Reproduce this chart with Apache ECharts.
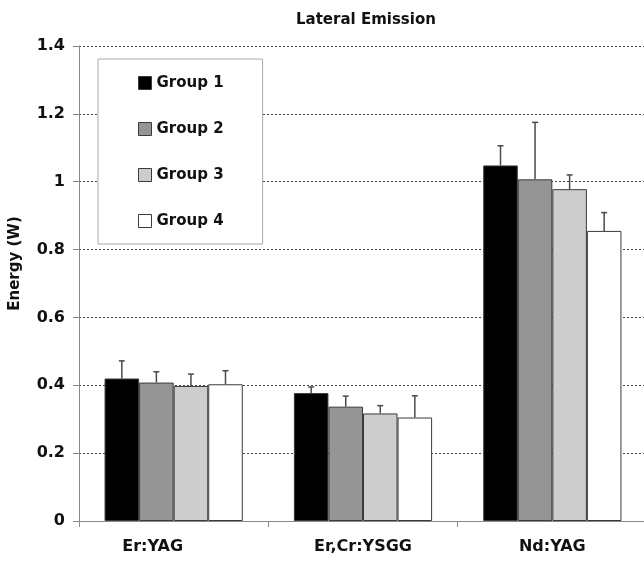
<!DOCTYPE html>
<html>
<head>
<meta charset="utf-8">
<script src="https://cdn.jsdelivr.net/npm/echarts@6/dist/echarts.min.js"></script>
<style>html,body{margin:0;padding:0;background:#fff}#c{width:644px;height:561px}</style>
</head>
<body>
<div id="c"></div>
<script>
const categories = ['Er:YAG', 'Er,Cr:YSGG', 'Nd:YAG'];
const groupNames = ['Group 1', 'Group 2', 'Group 3', 'Group 4'];
const group1 = [0.42, 0.377, 1.048];
const group2 = [0.408, 0.337, 1.007];
const group3 = [0.398, 0.317, 0.978];
const group4 = [0.403, 0.305, 0.855];
const err1 = [0.052, 0.018, 0.058];
const err2 = [0.032, 0.031, 0.168];
const err3 = [0.035, 0.023, 0.042];
const err4 = [0.040, 0.064, 0.054];
const yTicks = [0, 0.2, 0.4, 0.6, 0.8, 1, 1.2, 1.4];

const values = [group1, group2, group3, group4];
const errors = [err1, err2, err3, err4];
const colors = ['#000000', '#959595', '#cdcdcd', '#ffffff'];
const FONT = 'DejaVu Sans';
const GAP = 0.27;

const barSeries = values.map((v, g) => ({
  name: groupNames[g],
  type: 'bar',
  data: v,
  barGap: '0%',
  barCategoryGap: (GAP * 100) + '%',
  itemStyle: { color: colors[g], borderColor: '#3a3a3a', borderWidth: 1 },
  emphasis: { disabled: true },
  z: 2
}));

const errSeries = values.map((v, g) => ({
  name: 'err' + g,
  type: 'custom',
  z: 3,
  data: v.map((val, i) => [i, val, val + errors[g][i]]),
  renderItem: function (params, api) {
    const base = api.coord([api.value(0), api.value(1)]);
    const top = api.coord([api.value(0), api.value(2)]);
    const catW = api.size([1, 0])[0];
    const barW = catW * (1 - GAP) / 4;
    const xc = base[0] + (g - 1.5) * barW;
    const style = { stroke: '#4a4a4a', lineWidth: 1.5 };
    return {
      type: 'group',
      children: [
        { type: 'line', shape: { x1: xc, y1: base[1], x2: xc, y2: top[1] }, style: style },
        { type: 'line', shape: { x1: xc - 3, y1: top[1], x2: xc + 3, y2: top[1] }, style: style }
      ]
    };
  }
}));

const chart = echarts.init(document.getElementById('c'), null, { renderer: 'canvas' });
chart.setOption({
  animation: false,
  backgroundColor: '#ffffff',
  title: {
    text: 'Lateral Emission',
    left: 291,
    top: 8,
    textStyle: { fontFamily: FONT, fontWeight: 'bold', fontSize: 15, color: '#111' }
  },
  legend: {
    data: groupNames,
    orient: 'vertical',
    left: 98,
    top: 59,
    padding: [16, 39, 15, 40],
    itemGap: 30,
    itemWidth: 13,
    itemHeight: 13,
    icon: 'rect',
    itemStyle: { borderColor: '#3a3a3a', borderWidth: 1 },
    backgroundColor: '#ffffff',
    borderColor: '#aaaaaa',
    borderWidth: 1,
    textStyle: { fontFamily: FONT, fontWeight: 'bold', fontSize: 15, color: '#111', lineHeight: 16 },
    selectedMode: false
  },
  grid: { left: 79, top: 46, bottom: 40, right: -3, containLabel: false, outerBoundsMode: 'none' },
  xAxis: {
    type: 'category',
    data: categories.map((c, i) => i === 0 ? { value: c, textStyle: { padding: [0, 42, 0, 0] } } : c),
    axisLine: { lineStyle: { color: '#888888', width: 1 } },
    axisTick: { show: true, length: 6, lineStyle: { color: '#888888' } },
    axisLabel: { fontFamily: FONT, fontWeight: 'bold', fontSize: 16, color: '#111', margin: 18 }
  },
  yAxis: {
    type: 'value',
    min: yTicks[0],
    max: yTicks[yTicks.length - 1],
    interval: 0.2,
    name: 'Energy (W)',
    nameLocation: 'middle',
    nameGap: 56,
    nameRotate: 90,
    nameTextStyle: { fontFamily: FONT, fontWeight: 'bold', fontSize: 15, color: '#111', padding: [0, 0, 0, 40] },
    axisLine: { show: true, lineStyle: { color: '#888888', width: 1 } },
    axisTick: { show: true, length: 6, lineStyle: { color: '#888888' } },
    axisLabel: { fontFamily: FONT, fontWeight: 'bold', fontSize: 16, color: '#111', margin: 14,
      formatter: v => String(parseFloat(v.toFixed(1))) },
    splitLine: { show: true, lineStyle: { color: '#444444', type: [2, 2], width: 1 } }
  },
  series: barSeries.concat(errSeries)
});
</script>
</body>
</html>
